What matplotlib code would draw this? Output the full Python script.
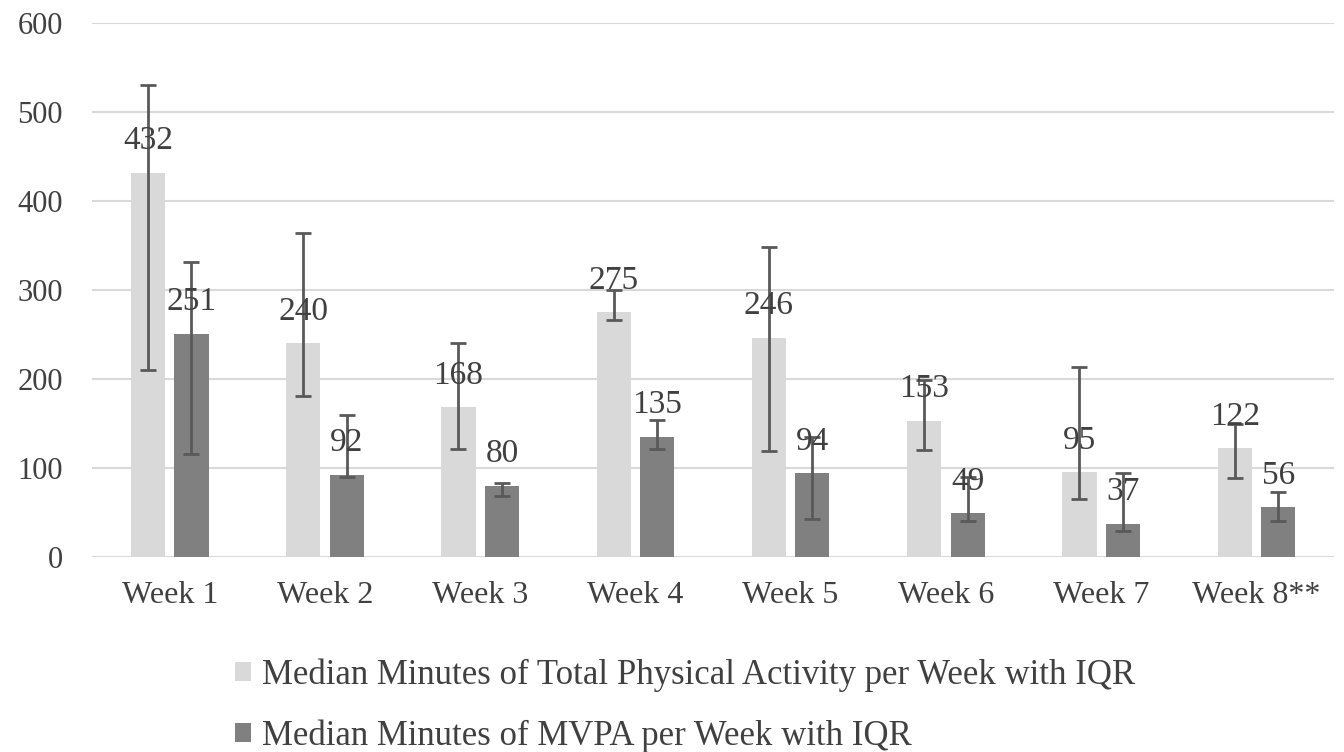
import numpy as np
import matplotlib
matplotlib.use('Agg')
from matplotlib import pyplot as plt

plt.rcParams['font.family'] = ['Liberation Serif', 'DejaVu Serif']

# Datos
semanas = ['Week 1', 'Week 2', 'Week 3', 'Week 4', 'Week 5', 'Week 6', 'Week 7', 'Week 8**']
total = [432, 240, 168, 275, 246, 153, 95, 122]
total_q1 = [210, 181, 121, 266, 119, 120, 65, 89]
total_q3 = [530, 364, 240, 300, 348, 199, 213, 150]
mvpa = [251, 92, 80, 135, 94, 49, 37, 56]
mvpa_q1 = [116, 90, 68, 121, 43, 40, 29, 40]
mvpa_q3 = [331, 160, 83, 154, 135, 90, 94, 73]

c_claro = '#d9d9d9'
c_oscuro = '#808080'
c_err = '#595959'
c_txt = '#404040'

fig = plt.figure(figsize=(13.44, 7.52), dpi=100)
ax = fig.add_axes([0.0685, 0.2593, 0.9241, 0.7101])

x = np.arange(len(semanas))
off = 0.14
w = 0.22

err_t = [np.array(total) - np.array(total_q1), np.array(total_q3) - np.array(total)]
err_m = [np.array(mvpa) - np.array(mvpa_q1), np.array(mvpa_q3) - np.array(mvpa)]

b1 = ax.bar(x - off, total, w, color=c_claro, zorder=2,
            label='Median Minutes of Total Physical Activity per Week with IQR')
b2 = ax.bar(x + off, mvpa, w, color=c_oscuro, zorder=2,
            label='Median Minutes of MVPA per Week with IQR')
ax.errorbar(x - off, total, yerr=err_t, fmt='none', ecolor=c_err,
            elinewidth=2, capsize=6, capthick=2, zorder=3)
ax.errorbar(x + off, mvpa, yerr=err_m, fmt='none', ecolor=c_err,
            elinewidth=2, capsize=6, capthick=2, zorder=3)

# etiquetas de valor
for xi, v in zip(x - off, total):
    ax.annotate(str(v), (xi, v), xytext=(0, 12), textcoords='offset points',
                ha='center', va='bottom', fontsize=24, color=c_txt, zorder=4)
for xi, v in zip(x + off, mvpa):
    ax.annotate(str(v), (xi, v), xytext=(0, 12), textcoords='offset points',
                ha='center', va='bottom', fontsize=24, color=c_txt, zorder=4)

ax.set_xlim(-0.5, len(semanas) - 0.5)
ax.set_ylim(0, 600)
ax.set_yticks(range(0, 601, 100))
ax.set_xticks(x)
ax.set_xticklabels(semanas)
ax.yaxis.grid(True, color=c_claro, linewidth=1.5, zorder=0)
ax.set_axisbelow(True)
for s in ax.spines.values():
    s.set_visible(False)
ax.tick_params(axis='y', length=0, labelsize=22, colors=c_txt, pad=21)
ax.tick_params(axis='x', length=0, labelsize=23, colors=c_txt, pad=17)

fig.legend(handles=[b1, b2], loc='upper left', bbox_to_anchor=(0.1644, 0.1433),
           ncol=1, frameon=False, fontsize=25, handlelength=0.46,
           handleheight=0.46, handletextpad=0.32, labelspacing=0.8,
           labelcolor=c_txt, borderaxespad=0)

fig.savefig('out.png', dpi=100)
